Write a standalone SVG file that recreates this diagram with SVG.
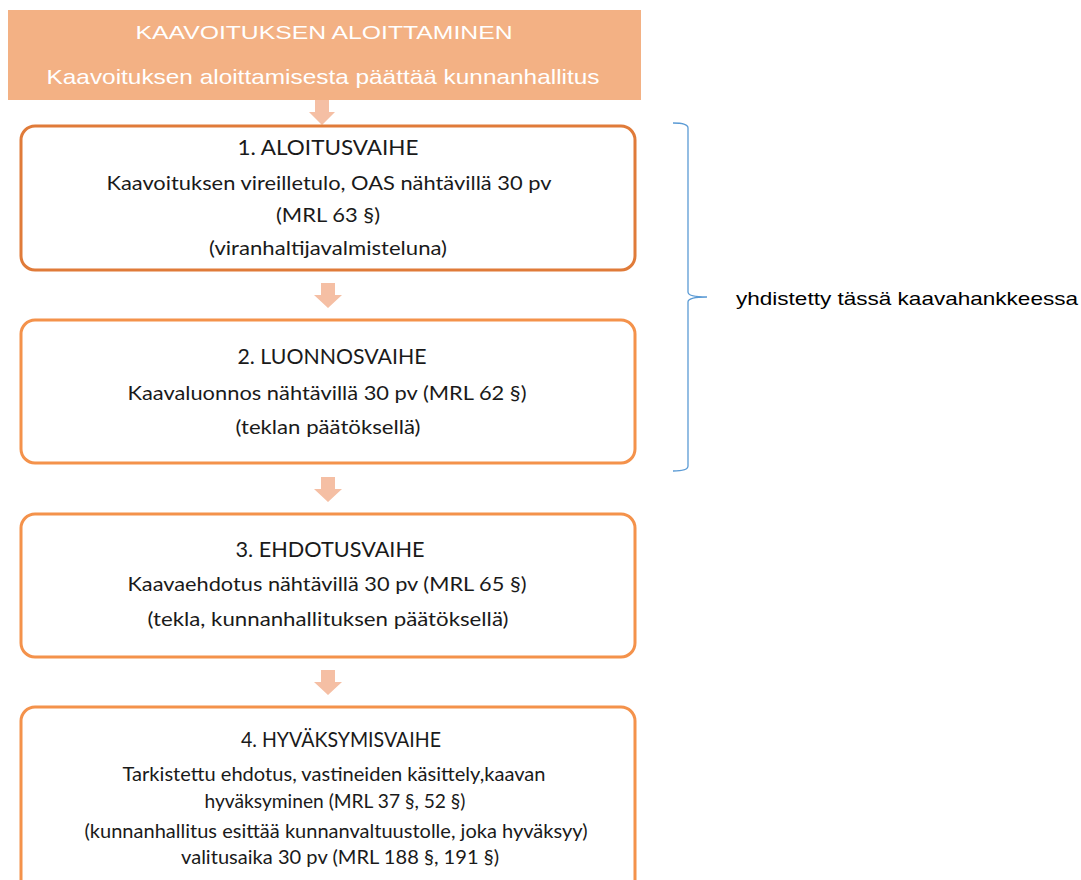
<svg xmlns="http://www.w3.org/2000/svg" width="1081" height="880" viewBox="0 0 1081 880">
<style>
.hd{font-family:"Liberation Sans",Arial,sans-serif;fill:#ffffff;text-anchor:middle}
.bx{fill:#ffffff;stroke:#F4924B;stroke-width:3}
.t{font-family:Lato,"Liberation Sans",sans-serif;fill:#1a1a1a;text-anchor:middle}
.ti{font-size:22px}
.b{font-size:20px}
.arr{fill:#F5BFA4}
.br{fill:none;stroke:#5B9BD5;stroke-width:1.3}
.lbl{font-family:"Liberation Sans",Arial,sans-serif;font-size:19px;fill:#000000}
</style>
<rect width="1081" height="880" fill="#ffffff"/>
<g id="header">
<rect x="8" y="10" width="633" height="90" fill="#F3B184"/>
<text class="hd" x="324" y="39" font-size="19" textLength="377" lengthAdjust="spacingAndGlyphs">KAAVOITUKSEN ALOITTAMINEN</text>
<text class="hd" x="323" y="84" font-size="21" textLength="553" lengthAdjust="spacingAndGlyphs">Kaavoituksen aloittamisesta päättää kunnanhallitus</text>
</g>
<g id="connectors">
<path class="arr" d="M315,100 H329 V112 H335 L322,125 L309,112 H315 Z"/>
<path class="arr" d="M321,283 H335 V295 H342 L328,308 L314,295 H321 Z"/>
<path class="arr" d="M321,477 H335 V489 H342 L328,502 L314,489 H321 Z"/>
<path class="arr" d="M321,670 H335 V682 H342 L328,695 L314,682 H321 Z"/>
</g>
<g id="box1">
<rect class="bx" x="21" y="126" width="614" height="144" rx="14" style="stroke:#E07B39"/>
<text class="t ti" x="328" y="155" textLength="181" lengthAdjust="spacingAndGlyphs">1. ALOITUSVAIHE</text>
<text class="t b" x="329" y="190" textLength="445" lengthAdjust="spacingAndGlyphs">Kaavoituksen vireilletulo, OAS nähtävillä 30 pv</text>
<text class="t b" x="328" y="222" textLength="104" lengthAdjust="spacingAndGlyphs">(MRL 63 §)</text>
<text class="t b" x="328" y="255" textLength="238" lengthAdjust="spacingAndGlyphs">(viranhaltijavalmisteluna)</text>
</g>
<g id="box2">
<rect class="bx" x="21" y="320" width="614" height="143" rx="14"/>
<text class="t ti" x="332" y="364" textLength="189" lengthAdjust="spacingAndGlyphs">2. LUONNOSVAIHE</text>
<text class="t b" x="327" y="400" textLength="399" lengthAdjust="spacingAndGlyphs">Kaavaluonnos nähtävillä 30 pv (MRL 62 §)</text>
<text class="t b" x="328" y="434" textLength="185" lengthAdjust="spacingAndGlyphs">(teklan päätöksellä)</text>
</g>
<g id="box3">
<rect class="bx" x="21" y="514" width="614" height="143" rx="14"/>
<text class="t ti" x="330" y="557" textLength="189" lengthAdjust="spacingAndGlyphs">3. EHDOTUSVAIHE</text>
<text class="t b" x="327" y="591" textLength="399" lengthAdjust="spacingAndGlyphs">Kaavaehdotus nähtävillä 30 pv (MRL 65 §)</text>
<text class="t b" x="328" y="626" textLength="361" lengthAdjust="spacingAndGlyphs">(tekla, kunnanhallituksen päätöksellä)</text>
</g>
<g id="box4">
<rect class="bx" x="21" y="707" width="614" height="190" rx="14"/>
<text class="t ti" x="341" y="747" textLength="200" lengthAdjust="spacingAndGlyphs">4. HYVÄKSYMISVAIHE</text>
<text class="t b" x="334" y="781" textLength="423" lengthAdjust="spacingAndGlyphs">Tarkistettu ehdotus, vastineiden käsittely,kaavan</text>
<text class="t b" x="335" y="808" textLength="261" lengthAdjust="spacingAndGlyphs">hyväksyminen (MRL 37 §, 52 §)</text>
<text class="t b" x="336" y="838" textLength="503" lengthAdjust="spacingAndGlyphs">(kunnanhallitus esittää kunnanvaltuustolle, joka hyväksyy)</text>
<text class="t b" x="340" y="864" textLength="318" lengthAdjust="spacingAndGlyphs">valitusaika 30 pv (MRL 188 §, 191 §)</text>
</g>
<g id="brace">
<path class="br" d="M673,123 Q688,123 688,128 V292 Q688,297 707,297 Q688,297 688,302 V466 Q688,471 673,471"/>
<text class="lbl" x="736" y="305" textLength="342" lengthAdjust="spacingAndGlyphs">yhdistetty tässä kaavahankkeessa</text>
</g>
</svg>
